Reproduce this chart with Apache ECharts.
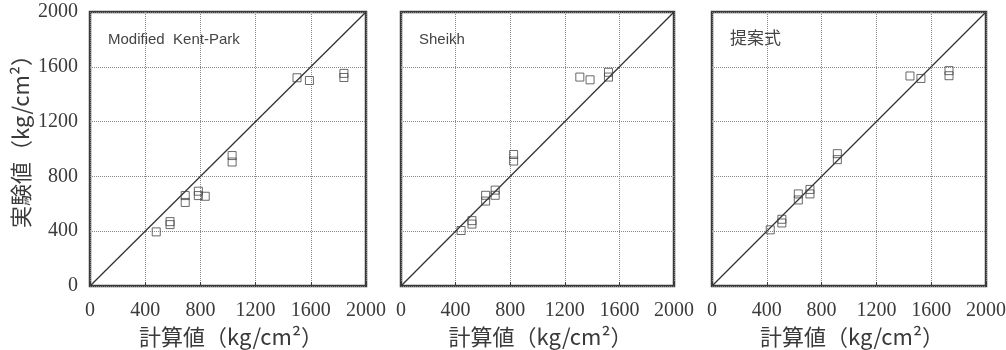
<!DOCTYPE html>
<html><head><meta charset="utf-8">
<script src="https://cdn.jsdelivr.net/npm/echarts@6/dist/echarts.min.js"></script>
<style>html,body{margin:0;padding:0;background:#fff}#c{width:1006px;height:350px}</style>
</head><body><div id="c"></div>
<script>
const panelTitles = ['Modified  Kent-Park', 'Sheikh', '提案式'];
const axisTicks = [0, 400, 800, 1200, 1600, 2000];
const xAxisName = '計算値（kg/cm²）';
const yAxisName = '実験値（kg/cm²）';
// [calculated, experimental]
const kentPark = [[480,395],[580,470],[580,448],[690,660],[690,610],[785,692],[785,660],[835,655],[1030,952],[1030,905],[1500,1520],[1590,1500],[1840,1552],[1840,1522]];
const sheikh = [[440,405],[520,477],[520,452],[620,662],[620,620],[690,700],[690,662],[825,960],[825,912],[1310,1525],[1385,1505],[1520,1560],[1520,1525]];
const proposed = [[425,410],[510,487],[510,460],[630,672],[630,628],[715,705],[715,672],[915,966],[915,922],[1445,1533],[1525,1515],[1730,1572],[1730,1535]];
const identity = [[0,0],[2000,2000]];

const datasets = [kentPark, sheikh, proposed];
const grids = [{left:90,width:276},{left:401,width:273},{left:712,width:274}];
const serif = 'Liberation Serif';
const cjk = 'Noto Sans CJK JP';

const option = {
  backgroundColor:'#fff',
  animation:false,
  grid: grids.map(g=>({left:g.left,width:g.width,top:12,height:274,show:true,outerBoundsMode:'none',containLabel:false,
    borderColor:'#3a3a3a',borderWidth:2.5,backgroundColor:'transparent'})),
  title: panelTitles.map((t,i)=>({text:t,left:grids[i].left+13,top:i===2?24:27,
    textStyle:{fontFamily:i===2?cjk:'Liberation Sans',fontSize:i===2?17:15,fontWeight:'normal',color:'#444'}})),
  xAxis: grids.map((g,i)=>({gridIndex:i,type:'value',min:0,max:2000,interval:400,
    name:xAxisName,nameLocation:'middle',nameGap:36,
    nameTextStyle:{fontFamily:cjk,fontSize:22,color:'#3a3a3a',padding:[0,0,0,6]},
    axisLine:{show:false},
    axisTick:{show:true,inside:true,length:4,lineStyle:{color:'#3a3a3a',width:1}},
    axisLabel:{fontFamily:serif,fontSize:20,color:'#3a3a3a',margin:15,
      formatter:v=>axisTicks.includes(v)?String(v):''},
    splitLine:{show:true,lineStyle:{type:'dotted',color:'#888',width:1}}})),
  yAxis: grids.map((g,i)=>({gridIndex:i,type:'value',min:0,max:2000,interval:400,
    name:i===0?yAxisName:'',nameLocation:'middle',nameGap:58,
    nameTextStyle:{fontFamily:cjk,fontSize:22,color:'#3a3a3a',padding:[0,0,0,26]},
    axisLine:{show:false},
    axisTick:{show:false},
    axisLabel:{show:i===0,fontFamily:serif,fontSize:20,color:'#3a3a3a',margin:12,
      formatter:v=>axisTicks.includes(v)?String(v):''},
    splitLine:{show:true,lineStyle:{type:'dotted',color:'#888',width:1}}})),
  series: []
};
datasets.forEach((d,i)=>{
  option.series.push({type:'line',xAxisIndex:i,yAxisIndex:i,data:identity,showSymbol:false,
    lineStyle:{color:'#333',width:1.3},silent:true,z:2});
  option.series.push({type:'scatter',xAxisIndex:i,yAxisIndex:i,data:d,symbol:'rect',symbolSize:8,
    itemStyle:{color:'rgba(0,0,0,0)',borderColor:'#444',borderWidth:1},z:3});
});
echarts.init(document.getElementById('c'),null,{renderer:'canvas'}).setOption(option);
</script></body></html>
